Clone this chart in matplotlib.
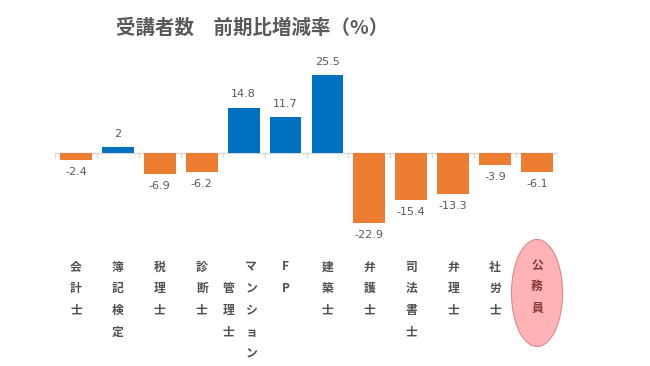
import matplotlib
matplotlib.use("Agg")
import matplotlib.pyplot as plt
from matplotlib import transforms
from matplotlib.patches import Ellipse

categories = ["会計士", "簿記検定", "税理士", "診断士", "マンション管理士", "FP",
              "建築士", "弁護士", "司法書士", "弁理士", "社労士", "公務員"]
values = [-2.4, 2, -6.9, -6.2, 14.8, 11.7, 25.5, -22.9, -15.4, -13.3, -3.9, -6.1]
value_labels = ["-2.4", "2", "-6.9", "-6.2", "14.8", "11.7", "25.5", "-22.9",
                "-15.4", "-13.3", "-3.9", "-6.1"]
title = "受講者数　前期比増減率（%）"
highlight = "公務員"

BLUE = "#0070C0"
ORANGE = "#ED7D31"
GRAY = "#595959"
JP = ["Noto Sans CJK JP", "DejaVu Sans"]

W, H = 650, 366
fig = plt.figure(figsize=(6.5, 3.66), dpi=100)
ax = fig.add_axes([55 / W, 1 - 240 / H, (558 - 55) / W, 180 / H])
ax.set_xlim(-0.5, len(categories) - 0.5)
ax.set_ylim(-28.4, 30.4)
ax.axis("off")

x = list(range(len(categories)))
colors = [BLUE if v >= 0 else ORANGE for v in values]
ax.bar(x, values, width=0.76, color=colors, zorder=3)

# zero line and small ticks between categories
ax.axhline(0, color="#D9D9D9", lw=1, zorder=2)
for b in range(len(categories) + 1):
    ax.plot([b - 0.5, b - 0.5], [0, -1.3], color="#D9D9D9", lw=1, zorder=2)

for xi, v, lab in zip(x, values, value_labels):
    if v >= 0:
        ax.annotate(lab, (xi, v), xytext=(0, 6), textcoords="offset points",
                    ha="center", va="bottom", fontsize=8, color=GRAY,
                    family="DejaVu Sans")
    else:
        ax.annotate(lab, (xi, v), xytext=(0, -5), textcoords="offset points",
                    ha="center", va="top", fontsize=8, color=GRAY,
                    family="DejaVu Sans")

# vertical category labels
trans = transforms.blended_transform_factory(ax.transData, fig.transFigure)
row0 = 267
step = 21.7


def draw_column(xc, text, start_row, color):
    for i, ch in enumerate(text):
        ypix = row0 + (start_row + i) * step
        ax.text(xc, 1 - ypix / H, ch, transform=trans, ha="center", va="center",
                fontsize=8.5, color=color, family=JP, fontweight="bold",
                clip_on=False, zorder=5)


for xi, cat in zip(x, categories):
    if cat == "マンション管理士":
        draw_column(xi - 0.37, "管理士", 1, "#505050")
        draw_column(xi + 0.18, "マンション", 0, "#505050")
    elif cat == highlight:
        ell = Ellipse((xi, 1 - 293 / H), width=1.22, height=107 / H,
                      transform=trans, facecolor="#FFB3B5", edgecolor="#D98A8E",
                      lw=0.8, clip_on=False, zorder=4)
        ax.add_patch(ell)
        draw_column(xi, cat, -0.1, "#8B3A3A")
    else:
        draw_column(xi, cat, 0, "#505050")

fig.text(252 / W, 1 - 28 / H, title, ha="center", va="center", fontsize=14,
         fontweight="bold", color=GRAY, family=JP)

fig.savefig("out.png", dpi=100, facecolor="white")
